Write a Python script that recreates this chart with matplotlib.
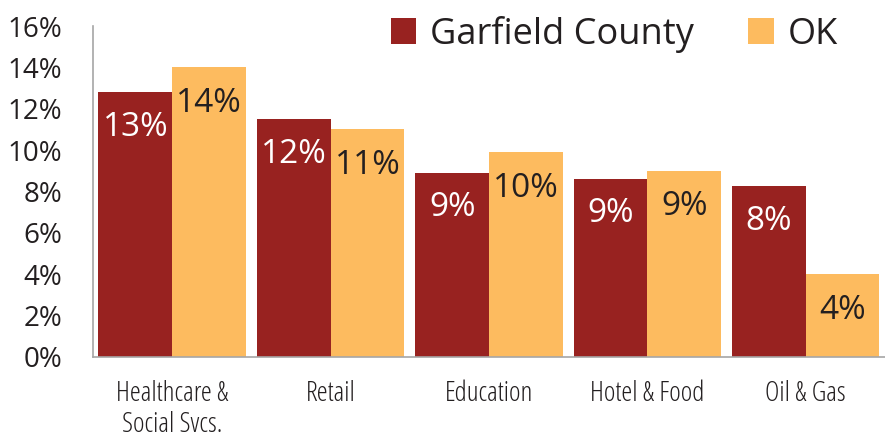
import matplotlib.pyplot as plt
import numpy as np

categories = ["Healthcare &\nSocial Svcs.", "Retail", "Education", "Hotel & Food", "Oil & Gas"]
garfield = [12.8, 11.5, 8.9, 8.6, 8.25]
ok = [14.0, 11.0, 9.9, 9.0, 4.0]
garfield_labels = ["13%", "12%", "9%", "9%", "8%"]
ok_labels = ["14%", "11%", "10%", "9%", "4%"]

red = "#982220"
gold = "#FDBB5F"
txt = "#231F20"

fig = plt.figure(figsize=(8.85, 4.42), dpi=100)
ax = fig.add_axes([0.105, 0.193, 0.895, 0.748])

x = np.arange(len(categories))
w = 0.465
b1 = ax.bar(x - w / 2, garfield, w, color=red, label="Garfield County")
b2 = ax.bar(x + w / 2, ok, w, color=gold, label="OK")

# value labels inside the bars, near the top
for rect, lab in zip(b1, garfield_labels):
    ax.annotate(lab, (rect.get_x() + rect.get_width() / 2, rect.get_height()),
                xytext=(0, -35), textcoords="offset pixels",
                ha="center", va="center", color="white", fontsize=24, family="Open Sans")
for rect, lab in zip(b2, ok_labels):
    ax.annotate(lab, (rect.get_x() + rect.get_width() / 2, rect.get_height()),
                xytext=(0, -36), textcoords="offset pixels",
                ha="center", va="center", color=txt, fontsize=24, family="Open Sans")

ax.set_ylim(0, 16)
ax.set_xlim(-0.5, 4.5)
ax.set_yticks(np.arange(0, 17, 2))
ax.set_yticklabels([f"{v}%" for v in range(0, 17, 2)])
ax.set_xticks(x)
ax.set_xticklabels(categories, linespacing=1.15)

for lbl in ax.get_yticklabels():
    lbl.set_fontsize(20)
    lbl.set_family("Open Sans")
    lbl.set_color(txt)
for lbl in ax.get_xticklabels():
    lbl.set_fontsize(20)
    lbl.set_family("Open Sans")
    lbl.set_stretch("condensed")
    lbl.set_color(txt)

ax.tick_params(axis="both", length=0)
ax.tick_params(axis="x", pad=17)
ax.tick_params(axis="y", pad=22)
ax.spines["top"].set_visible(False)
ax.spines["right"].set_visible(False)
ax.spines["left"].set_color("#A6A6A6")
ax.spines["bottom"].set_color("#A6A6A6")
ax.spines["left"].set_linewidth(1.2)
ax.spines["bottom"].set_linewidth(1.2)

leg = ax.legend(loc="upper right", bbox_to_anchor=(0.982, 1.13), ncol=2, frameon=False,
                prop={"family": "Open Sans", "size": 26}, handlelength=0.7, handleheight=0.7,
                handletextpad=0.4, columnspacing=1.5)
for t in leg.get_texts():
    t.set_color(txt)

fig.savefig("out.png", dpi=100)
